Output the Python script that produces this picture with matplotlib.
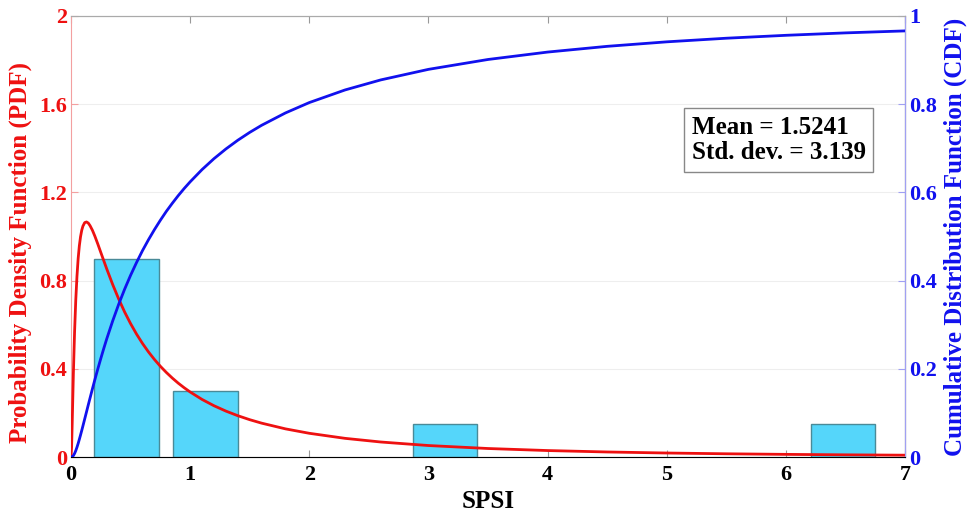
import matplotlib.pyplot as plt
import numpy as np

# SPSI grid and curves
spsi = [0.0, 0.005, 0.01, 0.02, 0.03, 0.04, 0.05, 0.06, 0.07, 0.08, 0.09, 0.10,
        0.115, 0.13, 0.145, 0.16, 0.18, 0.20, 0.225, 0.25, 0.275, 0.30, 0.35, 0.40,
        0.45, 0.5, 0.55, 0.6, 0.65, 0.7, 0.75, 0.8, 0.85, 0.9, 0.95, 1.0, 1.1, 1.2,
        1.3, 1.4, 1.5, 1.6, 1.8, 2.0, 2.3, 2.6, 3.0, 3.5, 4.0,
        4.5, 5.0, 5.5, 6.0, 6.5, 7.0]
pdf = [0.0, 0.045, 0.152, 0.380, 0.568, 0.712, 0.819, 0.900, 0.958, 0.999, 1.028, 1.047,
       1.063, 1.066, 1.061, 1.049, 1.028, 1.002, 0.966, 0.928, 0.8904, 0.853, 0.782, 0.717,
       0.6577, 0.605, 0.5575, 0.515, 0.4768, 0.4425, 0.4115, 0.3836, 0.3582, 0.335, 0.3141, 0.2949, 0.2611, 0.2326,
       0.2083, 0.1874, 0.1693, 0.1536, 0.1277, 0.1076, 0.0847, 0.0681, 0.0521, 0.0386, 0.02935,
       0.02287, 0.01817, 0.01467, 0.0120, 0.00995, 0.00833]
cdf = [0.0, 0.0001, 0.0006, 0.00324, 0.0080, 0.0144, 0.0221, 0.0307, 0.0401, 0.0499, 0.0600, 0.0704,
       0.0863, 0.1022, 0.1182, 0.1339, 0.1548, 0.1752, 0.1997, 0.2233, 0.2461, 0.268, 0.3087, 0.3462,
       0.3805, 0.412, 0.441, 0.468, 0.4926, 0.5155, 0.5369, 0.557, 0.5753, 0.5927, 0.6089, 0.624, 0.6518, 0.6765,
       0.6985, 0.7183, 0.7361, 0.7522, 0.7802, 0.8037, 0.8323, 0.8551, 0.879, 0.9014, 0.9182,
       0.9312, 0.9414, 0.9496, 0.9562, 0.9617, 0.9662]

# histogram bars
bar_centers = [0.465, 1.13, 3.14, 6.48]
bar_heights = [0.9, 0.3, 0.15, 0.15]
bar_width = 0.54

left_ticks = [0, 0.4, 0.8, 1.2, 1.6, 2]
left_labels = ["0", "0.4", "0.8", "1.2", "1.6", "2"]
right_ticks = [0, 0.2, 0.4, 0.6, 0.8, 1]
right_labels = ["0", "0.2", "0.4", "0.6", "0.8", "1"]

plt.rcParams['font.family'] = ['Liberation Serif', 'DejaVu Serif']
plt.rcParams['font.weight'] = 'bold'

fig = plt.figure(figsize=(9.7, 5.16), dpi=100)
ax_1 = fig.add_axes([0.0732, 0.1143, 0.8598, 0.8547])

ax_1.bar(bar_centers, bar_heights, width=bar_width, color='#55d6fa',
         edgecolor='#4a8a98', linewidth=1.0, zorder=2)
ax_1.plot(spsi, pdf, color='#ee1111', lw=2, zorder=3)

ax_1.set_xlim(0, 7)
ax_1.set_ylim(0, 2)
ax_1.set_xticks(range(8))
ax_1.set_yticks(left_ticks)
ax_1.set_yticklabels(left_labels)
ax_1.grid(True, axis='y', color='#eeeeee', lw=0.8, zorder=0)
ax_1.set_axisbelow(True)
ax_1.tick_params(axis='both', direction='in', length=5, labelsize=16, top=True,
                 color='#999999')
ax_1.tick_params(axis='x', pad=6)
ax_1.tick_params(axis='y', colors='#ee1111', labelcolor='#ee1111', color='#f3a0a0', pad=3)
ax_1.set_xlabel("SPSI", fontsize=18, fontweight='bold', labelpad=3)
ax_1.set_ylabel("Probability Density Function (PDF)", fontsize=18,
                fontweight='bold', color='#ee1111')
ax_1.yaxis.set_label_coords(-0.047, 0.463)
for side in ['top', 'bottom']:
    ax_1.spines[side].set_color('#aaaaaa')
ax_1.spines['left'].set_color('#f3a0a0')

ax_2 = ax_1.twinx()
ax_2.plot(spsi, cdf, color='#1111ee', lw=2, zorder=4)
ax_2.set_ylim(0, 1)
ax_2.set_yticks(right_ticks)
ax_2.set_yticklabels(right_labels)
ax_2.tick_params(axis='y', direction='in', length=5, labelsize=16, pad=3,
                 labelcolor='#1111ee', color='#a0a0f3')
ax_2.set_ylabel("Cumulative Distribution Function (CDF)", fontsize=18,
                fontweight='bold', color='#1111ee', labelpad=5)
ax_2.spines['right'].set_color('#a0a0f3')
ax_2.spines['left'].set_visible(False)
ax_2.spines['top'].set_color('#aaaaaa')

ax_2.text(0.744, 0.719, "Mean = 1.5241\nStd. dev. = 3.139", transform=ax_1.transAxes,
          fontsize=18, fontweight='bold', va='center', ha='left', linespacing=1.15,
          bbox=dict(boxstyle='square,pad=0.3', facecolor='white', edgecolor='#888888', lw=1))

fig.savefig("out.png", dpi=100)
